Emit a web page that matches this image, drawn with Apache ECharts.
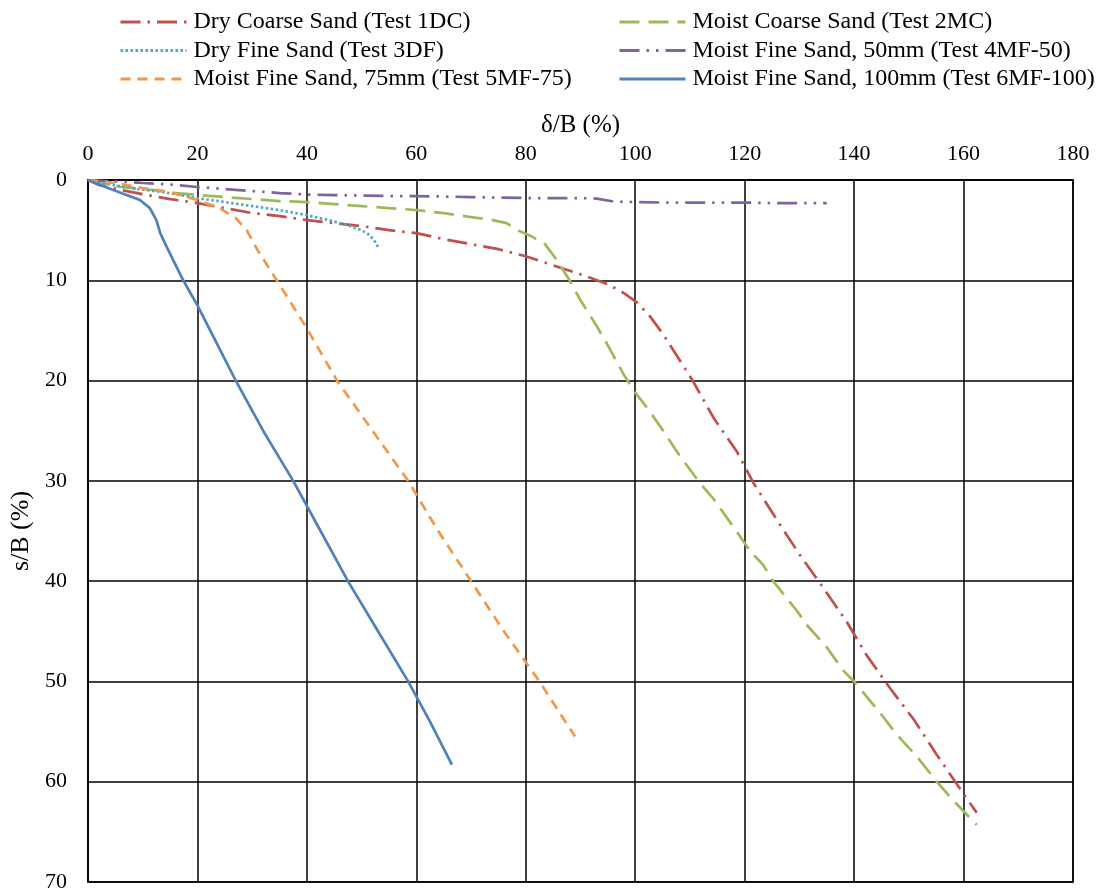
<!DOCTYPE html>
<html>
<head>
<meta charset="utf-8">
<script src="https://cdn.jsdelivr.net/npm/echarts@6/dist/echarts.min.js"></script>
<style>html,body{margin:0;padding:0;background:#fff}#c{width:1101px;height:894px}</style>
</head>
<body>
<div id="c"></div>
<script>
const xTicks = [0,20,40,60,80,100,120,140,160,180];
const yTicks = [0,10,20,30,40,50,60,70];
const names = ["Dry Coarse Sand (Test 1DC)","Moist Coarse Sand (Test 2MC)","Dry Fine Sand (Test 3DF)","Moist Fine Sand, 50mm (Test 4MF-50)","Moist Fine Sand, 75mm (Test 5MF-75)","Moist Fine Sand, 100mm (Test 6MF-100)"];
const s1DC = [[0,0],[2,0.5],[6,1.0],[10.8,1.5],[15,1.9],[20,2.3],[25,2.8],[30,3.3],[35,3.6],[40,4.0],[45,4.3],[50,4.6],[55,5.0],[60,5.3],[65,5.9],[70,6.4],[75,6.9],[80,7.6],[85,8.5],[90,9.4],[95,10.4],[98,11.3],[100.3,12.2],[102.7,13.6],[105,15.3],[107,17],[110.6,20.1],[114.3,23.7],[118.6,27.1],[121.6,30.2],[125.9,33.9],[130.1,37.4],[134.4,40.7],[138.7,44.1],[142.3,47.4],[146.6,50.7],[150.9,53.8],[155.1,57.3],[159.1,60.5],[162.4,63.1]];
const s2MC = [[0,0],[2,0.3],[6,0.7],[12,1.0],[16,1.3],[20,1.5],[25,1.7],[30,1.9],[35,2.1],[40,2.2],[45,2.4],[50,2.6],[55,2.8],[60,3.0],[65,3.3],[70,3.7],[74,4.0],[76.5,4.3],[78.5,5.0],[81,5.6],[83.5,6.4],[85.7,8.0],[88,10],[90,12],[93,14.6],[95,16.5],[98,19.5],[100,21.2],[102,22.6],[104.5,24.5],[108,27.4],[111.8,30.2],[114.3,31.8],[118.6,35.1],[121,37],[123.4,38.4],[125.2,40],[129.6,43],[131.4,44.4],[135,46.6],[138,48.9],[140,50],[144.7,53.1],[147.8,55.3],[151.5,57.5],[155.1,60],[158,61.8],[162.4,64.3]];
const s3DF = [[0,0],[4.6,0.5],[9,0.9],[13.7,1.2],[20,1.8],[25,2.2],[30,2.6],[35,3.0],[40,3.5],[44,4.0],[47.3,4.5],[49.5,4.9],[51,5.3],[52.3,6],[53,6.7]];
const s4MF50 = [[0,0],[3,0.1],[6,0.15],[10,0.3],[15,0.45],[20,0.7],[25,0.9],[30,1.1],[35,1.3],[40,1.45],[45,1.5],[50,1.55],[55,1.6],[60,1.6],[65,1.65],[70,1.7],[75,1.75],[80,1.8],[85,1.8],[90,1.8],[93,1.85],[96,2.15],[100,2.2],[105,2.25],[110,2.25],[115,2.25],[120,2.25],[125,2.3],[130,2.3],[135,2.3]];
const s5MF75 = [[0,0],[5,0.3],[10,0.8],[15,1.2],[20,2.0],[24,2.8],[27,3.8],[29,5],[31,7],[34.5,10],[40,14.8],[45.5,20],[52,25],[58.5,30],[64,35],[70,40],[76,45],[82.5,50],[89,55.5]];
const s6MF100 = [[0,0],[4.6,1.0],[9.5,2.0],[11.3,2.8],[12.5,4],[13.2,5.3],[14.4,6.7],[17.4,10],[20,12.5],[27,20],[32,25],[37.5,30],[42.5,35],[47.5,40],[53,45],[58.5,50],[62.5,54],[66.5,58.3]];

const font = "'Liberation Serif','Times New Roman',serif";
const colors = ['#C0504D','#9BBB59','#4BACC6','#8064A2','#F79646','#4F81BD'];
const dashes = [[20,7,2.5,7],[20,9],[2.5,2.5],[20,7,2.5,7,2.5,7],[10,7],'solid'];
const datasets = [s1DC,s2MC,s3DF,s4MF50,s5MF75,s6MF100];

const chart = echarts.init(document.getElementById('c'), null, {renderer:'canvas'});
const series = datasets.map((d,i)=>({
  name: names[i], type:'line', data:d, showSymbol:false, symbol:'none',
  lineStyle:{color:colors[i], width:2.7, type:dashes[i]},
  itemStyle:{color:colors[i]}, z: 3+i, animation:false
}));
function legendCfg(left, width, data){
  return {
    orient:'vertical', left:left, top:5, itemWidth:width, itemHeight:14, itemGap:4.5,
    data:data, selectedMode:false,
    itemStyle:{opacity:0},
    lineStyle:{width:3},
    textStyle:{fontFamily:font, fontSize:24, color:'#000', lineHeight:24, padding:[0,0,0,2]}
  };
}
chart.setOption({
  animation:false,
  backgroundColor:'#fff',
  grid:{left:88, top:180, right:28, bottom:12, show:true, borderColor:'#000', borderWidth:1.5, containLabel:false, outerBoundsMode:'none'},
  legend:[
    legendCfg(114, 66, [names[0],names[2],names[4]]),
    legendCfg(613, 66, [names[1],names[3],names[5]])
  ],
  xAxis:{
    type:'value', position:'top', min:xTicks[0], max:xTicks[xTicks.length-1], interval:20,
    name:'δ/B (%)', nameLocation:'middle', nameGap:37,
    nameTextStyle:{fontFamily:font, fontSize:25, color:'#000'},
    axisLine:{show:true, lineStyle:{color:'#000', width:1.5}},
    axisTick:{show:false},
    axisLabel:{fontFamily:font, fontSize:22, color:'#000', margin:15},
    splitLine:{show:true, lineStyle:{color:'#000', width:1.5}}
  },
  yAxis:{
    type:'value', inverse:true, min:yTicks[0], max:yTicks[yTicks.length-1], interval:10,
    name:'s/B (%)', nameLocation:'middle', nameGap:54, nameRotate:90,
    nameTextStyle:{fontFamily:font, fontSize:26, color:'#000'},
    axisLine:{show:true, lineStyle:{color:'#000', width:1.5}},
    axisTick:{show:false},
    axisLabel:{fontFamily:font, fontSize:22, color:'#000', margin:21},
    splitLine:{show:true, lineStyle:{color:'#000', width:1.5}}
  },
  series: series
});
</script>
</body>
</html>
